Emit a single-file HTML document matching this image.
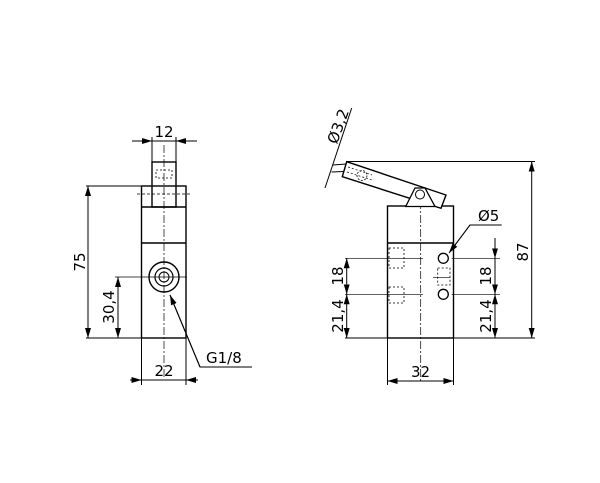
<!DOCTYPE html>
<html><head><style>
html,body{margin:0;padding:0;background:#fff;}
svg{display:block;}
text{font-family:"DejaVu Sans","Liberation Sans",sans-serif;font-size:15px;fill:#000;}
</style></head><body>
<svg width="600" height="483" viewBox="0 0 600 483" xmlns="http://www.w3.org/2000/svg">
<defs>
<marker id="a" viewBox="0 0 10 6" refX="10" refY="3" markerWidth="10" markerHeight="6" orient="auto-start-reverse" markerUnits="userSpaceOnUse">
<path d="M0,0 L10,3 L0,6 z" fill="#000"/></marker>
</defs>
<g stroke="#000" fill="none" stroke-width="1">
<rect x="141.5" y="186" width="44.5" height="152" stroke-width="1.4"/>
<line x1="141.5" y1="207" x2="186" y2="207" stroke-width="1.4"/>
<line x1="141.5" y1="243" x2="186" y2="243" stroke-width="1.4"/>
<rect x="152" y="162" width="24" height="45" stroke-width="1.4"/>
<rect x="156" y="170" width="16" height="8" stroke-dasharray="2,2" stroke-width="0.8"/>
<line x1="137" y1="194" x2="192" y2="194" stroke-dasharray="3,2" stroke-width="0.7"/>
<line x1="164" y1="145" x2="164" y2="377" stroke-dasharray="8,2,2,2" stroke-width="0.7"/>
<circle cx="164" cy="277" r="15" stroke-width="1.4"/>
<circle cx="164" cy="277" r="9" stroke-width="1.2"/>
<circle cx="164" cy="277" r="5" stroke-width="1"/>
<line x1="152" y1="162" x2="152" y2="137"/><line x1="176" y1="162" x2="176" y2="137"/>
<line x1="132" y1="141" x2="152" y2="141" marker-end="url(#a)"/>
<line x1="197" y1="141" x2="176" y2="141" marker-end="url(#a)"/>
<line x1="152" y1="141" x2="176" y2="141"/>
<line x1="86" y1="186" x2="141" y2="186"/><line x1="86" y1="338" x2="141" y2="338"/>
<line x1="88" y1="186" x2="88" y2="338" marker-start="url(#a)" marker-end="url(#a)"/>
<line x1="115" y1="277" x2="187" y2="277" stroke-width="0.8"/>
<line x1="118" y1="277" x2="118" y2="338" marker-start="url(#a)" marker-end="url(#a)"/>
<line x1="141.5" y1="338" x2="141.5" y2="385"/><line x1="186" y1="338" x2="186" y2="385"/>
<line x1="130" y1="380" x2="141.5" y2="380" marker-end="url(#a)"/>
<line x1="198" y1="380" x2="186" y2="380" marker-end="url(#a)"/>
<line x1="141.5" y1="380" x2="186" y2="380"/>
<polyline points="252,367 200,367 170,295"/>
<line x1="200" y1="367" x2="170" y2="295" marker-end="url(#a)"/>

<rect x="387.5" y="206" width="66" height="132" stroke-width="1.4"/>
<line x1="387.5" y1="243" x2="453.5" y2="243" stroke-width="1.4"/>
<line x1="420.7" y1="187" x2="420.7" y2="383" stroke-dasharray="8,2,2,2" stroke-width="0.7"/>
<polygon points="346.7,161.7 446,195 441,208.3 342.3,176.7" stroke-width="1.4" fill="#fff"/>
<polygon points="405.7,206.5 415,188 425,188 435,206.5" stroke-width="1.3" fill="#fff"/>
<circle cx="420" cy="194.5" r="4.5" stroke-width="1"/>
<line x1="333" y1="165" x2="346" y2="164"/>
<line x1="331.5" y1="172" x2="344" y2="171.5"/>
<line x1="348" y1="167" x2="372" y2="175" stroke-dasharray="2,2" stroke-width="0.7"/>
<line x1="347" y1="172" x2="372" y2="180" stroke-dasharray="2,2" stroke-width="0.7"/>
<circle cx="362" cy="175.5" r="5" stroke-dasharray="2,1.5" stroke-width="0.8"/>
<line x1="351.7" y1="108" x2="325" y2="188"/>
<line x1="346" y1="161.5" x2="535" y2="161.5"/>
<line x1="453.5" y1="338" x2="535" y2="338"/>
<line x1="531.7" y1="161.5" x2="531.7" y2="338" marker-start="url(#a)" marker-end="url(#a)"/>
<circle cx="443.3" cy="258.3" r="5" stroke-width="1.3"/>
<circle cx="443.3" cy="294.3" r="5" stroke-width="1.3"/>
<rect x="437.7" y="268" width="12.3" height="17" stroke-dasharray="2,2" stroke-width="0.8"/>
<line x1="433" y1="277.7" x2="450" y2="277.7" stroke-width="0.7"/>
<rect x="389" y="248" width="15" height="20" stroke-dasharray="2,2" stroke-width="0.8"/>
<rect x="389" y="287" width="15" height="16" stroke-dasharray="2,2" stroke-width="0.8"/>
<line x1="345" y1="258.3" x2="423" y2="258.3" stroke-width="0.7"/>
<line x1="345" y1="294.3" x2="423" y2="294.3" stroke-width="0.7"/>
<line x1="451.7" y1="258.3" x2="500" y2="258.3" stroke-width="0.7"/>
<line x1="451.7" y1="294.3" x2="500" y2="294.3" stroke-width="0.7"/>
<line x1="345" y1="338" x2="387.5" y2="338"/>
<line x1="346.7" y1="258.3" x2="346.7" y2="294.3" marker-start="url(#a)" marker-end="url(#a)"/>
<line x1="346.7" y1="294.3" x2="346.7" y2="338" marker-start="url(#a)" marker-end="url(#a)"/>
<line x1="495" y1="238" x2="495" y2="258.3" marker-end="url(#a)"/>
<line x1="495" y1="258.3" x2="495" y2="294.3" marker-end="url(#a)"/>
<line x1="495" y1="294.3" x2="495" y2="338" marker-start="url(#a)" marker-end="url(#a)"/>
<polyline points="501.7,225 470,225 450,251.7"/>
<line x1="470" y1="225" x2="449" y2="253" marker-end="url(#a)"/>
<line x1="387.5" y1="338" x2="387.5" y2="385"/><line x1="453.5" y1="338" x2="453.5" y2="385"/>
<line x1="387.5" y1="381" x2="453.5" y2="381" marker-start="url(#a)" marker-end="url(#a)"/>
</g>
<text x="164" y="137" text-anchor="middle">12</text>
<text x="164" y="376" text-anchor="middle">22</text>
<text x="206" y="363">G1/8</text>
<text transform="translate(85,262) rotate(-90)" text-anchor="middle">75</text>
<text transform="translate(114,307) rotate(-90)" text-anchor="middle">30,4</text>
<text transform="translate(343,128) rotate(-70)" text-anchor="middle">Ø3,2</text>
<text transform="translate(528,252) rotate(-90)" text-anchor="middle">87</text>
<text x="478" y="221">Ø5</text>
<text transform="translate(343,276) rotate(-90)" text-anchor="middle">18</text>
<text transform="translate(343,316) rotate(-90)" text-anchor="middle">21,4</text>
<text transform="translate(491,276) rotate(-90)" text-anchor="middle">18</text>
<text transform="translate(491,316) rotate(-90)" text-anchor="middle">21,4</text>
<text x="420.5" y="377" text-anchor="middle">32</text>
</svg>
</body></html>
